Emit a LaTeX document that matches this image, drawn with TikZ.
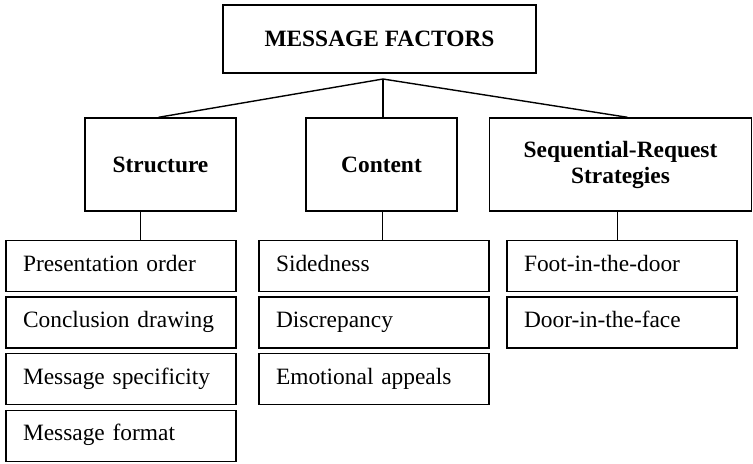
\documentclass[tikz,border=0pt]{standalone}
\usepackage{fontspec}
\setmainfont{Liberation Serif}
\usetikzlibrary{positioning}

\begin{document}
\begin{tikzpicture}[
    x=0.5pt, y=-0.5pt,
    node distance=2.1pt,
    headbox/.style={draw, line width=0.7pt, minimum height=46.5pt, minimum width=75.5pt,
                    font=\fontsize{11.7}{13}\selectfont\bfseries, align=center},
    itembox/.style={draw, line width=0.7pt, minimum height=25.5pt, text width=98pt,
                    inner xsep=8.5pt, text height=0.7em, text depth=0.2em,
                    font=\fontsize{11.7}{13}\selectfont, align=left},
    link/.style={line width=0.7pt},
]
\useasboundingbox (0,0) rectangle (753,463);

% Root
\node[headbox, minimum width=156.5pt, minimum height=34pt] (root) at (379.5,39) {MESSAGE FACTORS};
\coordinate (ju) at (383,79);

% Three factor groups
\node[headbox] (structure) at (160.5,164.5) {Structure};
\node[headbox] (content) at (381.5,164.5) {Content};
\node[headbox, minimum width=131pt] (seq) at (620.5,164.5) {Sequential-Request\\Strategies};

% Structure items
\node[itembox] (pres) at (121,266) {Presentation order};
\node[itembox, below=of pres] (concl) {Conclusion drawing};
\node[itembox, below=of concl] (spec) {Message specificity};
\node[itembox, below=of spec] (format) {Message format};

% Content items
\node[itembox] (sided) at (374,266) {Sidedness};
\node[itembox, below=of sided] (discr) {Discrepancy};
\node[itembox, below=of discr] (emo) {Emotional appeals};

% Sequential-request items
\node[itembox] (foot) at (622,266) {Foot-in-the-door};
\node[itembox, below=of foot] (door) {Door-in-the-face};

% Root -> groups
\draw[link] (ju) -- ([xshift=-1pt]structure.north);
\draw[link] (ju) -- (ju |- content.north);
\draw[link] (ju) -- ([xshift=3.5pt]seq.north);

% Groups -> first items
\draw[link] ([xshift=-10pt]structure.south) -- ([xshift=-10pt]structure.south |- pres.north);
\draw[link] ([xshift=0.5pt]content.south) -- ([xshift=0.5pt]content.south |- sided.north);
\draw[link] ([xshift=-1.5pt]seq.south) -- ([xshift=-1.5pt]seq.south |- foot.north);

\end{tikzpicture}
\end{document}
